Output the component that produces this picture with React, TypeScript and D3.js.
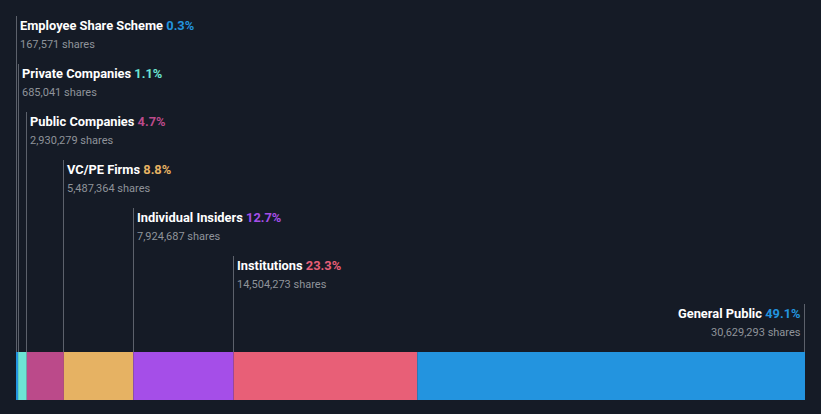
import React from "react";
import * as d3 from "d3";

const groups = [
  "Employee Share Scheme",
  "Private Companies",
  "Public Companies",
  "VC/PE Firms",
  "Individual Insiders",
  "Institutions",
  "General Public",
];
const shares = [167571, 685041, 2930279, 5487364, 7924687, 14504273, 30629293];
const percents = ["0.3%", "1.1%", "4.7%", "8.8%", "12.7%", "23.3%", "49.1%"];
const colors = ["#2394df", "#6ce5d4", "#bb4a8a", "#e6b263", "#a54ee8", "#e85f77", "#2394df"];

const W = 821;
const H = 414;
const barTop = 352;
const barBottom = 400;

export default function App() {
  const total = d3.sum(shares);
  const x = d3.scaleLinear().domain([0, total]).range([16, 805]);
  const starts = d3.cumsum([0, ...shares]);
  const fmt = d3.format(",");
  const y = d3.scaleLinear().domain([0, 1]).range([0, 48]);

  return (
    <svg width={W} height={H} style={{ position: "absolute", left: 0, top: 0, display: "block" }}>
      <rect width={W} height={H} fill="#151b26" />
      {shares.map((s, i) => {
        const x0 = x(starts[i]);
        const x1 = x(starts[i] + s);
        const last = i === shares.length - 1;
        const lx = last ? Math.round(x1) - 0.5 : Math.floor(x0) + 0.5;
        const top = 16 + y(i);
        return (
          <g key={groups[i]}>
            <rect x={x0} y={barTop} width={x1 - x0} height={barBottom - barTop} fill={colors[i]} />
            <line x1={lx} x2={lx} y1={top} y2={barTop} stroke="#5c616b" strokeWidth={1} />
            <text
              x={last ? lx - 4 : lx + 3.5}
              y={30 + y(i)}
              textAnchor={last ? "end" : "start"}
              fontFamily="Roboto, sans-serif"
              fontSize={12.85}
              fontWeight="bold"
              fill="#ffffff"
            >
              {groups[i]} <tspan fill={colors[i]}>{percents[i]}</tspan>
            </text>
            <text
              x={last ? lx - 4 : lx + 3.5}
              y={48 + y(i)}
              textAnchor={last ? "end" : "start"}
              fontFamily="Roboto, sans-serif"
              fontSize={11}
              fill="#8f939a"
            >
              {fmt(s)} shares
            </text>
          </g>
        );
      })}
    </svg>
  );
}
